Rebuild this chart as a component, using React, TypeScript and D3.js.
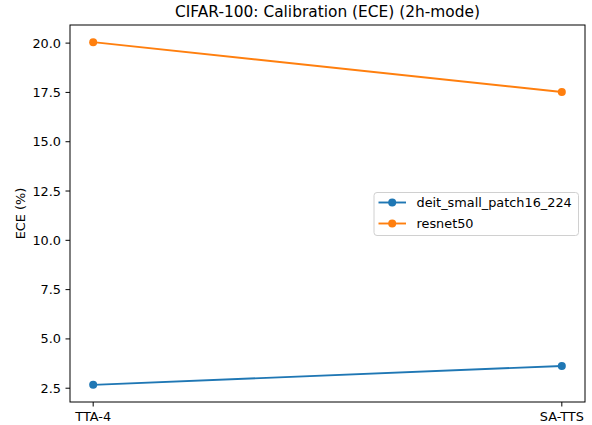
import React from 'react';
import * as d3 from 'd3';

// data
const methods = ['TTA-4', 'SA-TTS'];
const deitValues = [2.67, 3.63];
const resnetValues = [20.05, 17.52];
const seriesNames = ['deit_small_patch16_224', 'resnet50'];
const seriesColors = ['#1f77b4', '#ff7f0e'];
const yTicks = [2.5, 5.0, 7.5, 10.0, 12.5, 15.0, 17.5, 20.0];

const W = 592;
const H = 425;
const margin = { top: 25, right: 7, bottom: 23, left: 70 };
const fs = 12.85;

const App = () => {
  const iw = W - margin.left - margin.right;
  const ih = H - margin.top - margin.bottom;

  const x = d3.scalePoint<string>()
    .domain(methods)
    .range([iw * 0.045, iw * 0.955]);

  const all = [...deitValues, ...resnetValues];
  const lo = d3.min(all)!;
  const hi = d3.max(all)!;
  const pad = (hi - lo) * 0.05;
  const y = d3.scaleLinear().domain([lo - pad, hi + pad]).range([ih, 0]);

  const line = d3.line<number>()
    .x((d, i) => x(methods[i])!)
    .y(d => y(d));

  const series = [deitValues, resnetValues];
  const font = 'DejaVu Sans, sans-serif';

  return (
    <svg width={W} height={H} style={{ position: 'absolute', left: 0, top: 0 }} fontFamily={font}>
      <rect width={W} height={H} fill="#fff" />
      <text x={margin.left + iw / 2} y={17} textAnchor="middle" fontSize={15.4} fill="#000">
        CIFAR-100: Calibration (ECE) (2h-mode)
      </text>
      <text transform={`translate(24.5,${margin.top + ih / 2}) rotate(-90)`} textAnchor="middle" fontSize={fs} fill="#000">
        ECE (%)
      </text>
      <g transform={`translate(${margin.left},${margin.top})`}>
        {yTicks.map(t => (
          <g key={t} transform={`translate(0,${y(t)})`}>
            <line x1={-4.5} x2={0} stroke="#000" strokeWidth={1} />
            <text x={-9} dy="0.35em" textAnchor="end" fontSize={fs} fill="#000">{t.toFixed(1)}</text>
          </g>
        ))}
        {methods.map(m => (
          <g key={m} transform={`translate(${x(m)},${ih})`}>
            <line y1={0} y2={4.5} stroke="#000" strokeWidth={1} />
            <text y={19.3} textAnchor="middle" fontSize={fs} fill="#000">{m}</text>
          </g>
        ))}
        {series.map((s, k) => (
          <g key={k}>
            <path d={line(s)!} fill="none" stroke={seriesColors[k]} strokeWidth={1.9} />
            {s.map((v, i) => (
              <circle key={i} cx={x(methods[i])} cy={y(v)} r={4} fill={seriesColors[k]} />
            ))}
          </g>
        ))}
        <rect x={0} y={0} width={iw} height={ih} fill="none" stroke="#000" strokeWidth={1} />
        <g transform={`translate(${374 - margin.left},${192.5 - margin.top})`}>
          <rect x={0} y={0} width={204.5} height={43} rx={3} fill="#fff" fillOpacity={0.8} stroke="#d0d0d0" strokeWidth={1} />
          {seriesNames.map((n, k) => (
            <g key={n} transform={`translate(0,${10 + k * 21})`}>
              <line x1={4.5} x2={32} stroke={seriesColors[k]} strokeWidth={1.9} />
              <circle cx={18.2} cy={0} r={4} fill={seriesColors[k]} />
              <text x={42.5} dy="0.35em" fontSize={fs} fill="#000">{n}</text>
            </g>
          ))}
        </g>
      </g>
    </svg>
  );
};

export default App;
